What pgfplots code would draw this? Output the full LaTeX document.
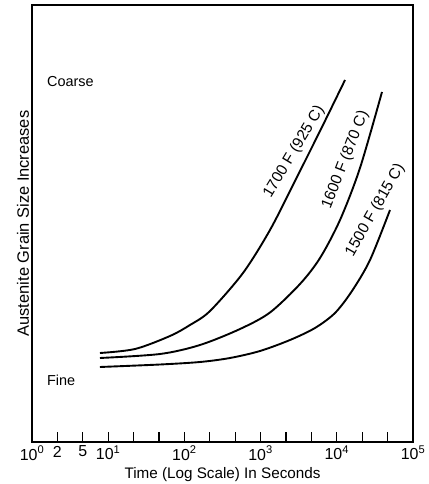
\documentclass[border=0pt]{standalone}
\usepackage{pgfplots}
\pgfplotsset{compat=1.18}
\usepackage{fontspec}
\setmainfont{Liberation Sans}
\begin{document}
\fontsize{14.5}{17}\selectfont
\begin{tikzpicture}
\path[use as bounding box] (-32bp,-42bp) rectangle (397bp,442bp);
\begin{axis}[
  scale only axis, width=381bp, height=437bp,
  xmode=log, xmin=1, xmax=100000, ymin=0, ymax=437,
  xtick={1,2.154,4.642,10,21.54,46.42,100,215.4,464.2,1000,2154,4642,10000,21544,46416,100000},
  xticklabels={10\textsuperscript{0},2,5,10\textsuperscript{1},,,10\textsuperscript{2},,,10\textsuperscript{3},,,10\textsuperscript{4},,,10\textsuperscript{5}},
  minor xtick={},
  ytick=\empty,
  xtick pos=left,
  tick align=inside,
  major tick length=10bp,
  every tick/.style={black, line width=1.2pt},
  axis line style={line width=1.4pt},
  /pgf/number format/assume math mode=true,
  xticklabel style={font=\fontsize{16}{18}\selectfont, yshift=1bp},
  xlabel style={font=\fontsize{15.3}{17}\selectfont, yshift=3bp},
  ylabel style={font=\fontsize{16.5}{18}\selectfont, yshift=-2bp},
  xlabel={Time (Log Scale) In Seconds},
  ylabel={Austenite Grain Size Increases},
  clip=false,
]
% 1700 F
\addplot[black, line width=1.9pt, smooth] coordinates {
(7.8,89) (22.5,93) (64.7,106) (118.4,117) (216.8,131) (587.5,169) (1328,212) (2828,261) (6023,311) (12820,362)};
% 1600 F
\addplot[black, line width=1.9pt, smooth] coordinates {
(7.8,84) (47.9,88) (160.2,97) (537,113) (1328,129.5) (3289,158) (6023,184) (11020,222) (20150,274) (39170,350)};
% 1500 F
\addplot[black, line width=1.9pt, smooth] coordinates {
(7.8,75) (47.9,77.5) (160.2,80) (396.6,84) (982,91) (2432,102) (5171,114) (9465,129) (15820,151) (27280,182) (49890,232)};
\begin{scope}[every node/.style={font=\fontsize{15.5}{17}\selectfont}]
\node[rotate=59] at (axis cs:2750,290) {1700 F (925 C)};
\node[rotate=68.7] at (axis cs:13000,282) {1600 F (870 C)};
\node[rotate=60.4] at (axis cs:32000,232) {1500 F (815 C)};
\end{scope}
\node[anchor=west, inner sep=0pt] at (axis cs:1.57,360) {Coarse};
\node[anchor=west, inner sep=0pt] at (axis cs:1.57,62) {Fine};
\end{axis}
\end{tikzpicture}
\end{document}
